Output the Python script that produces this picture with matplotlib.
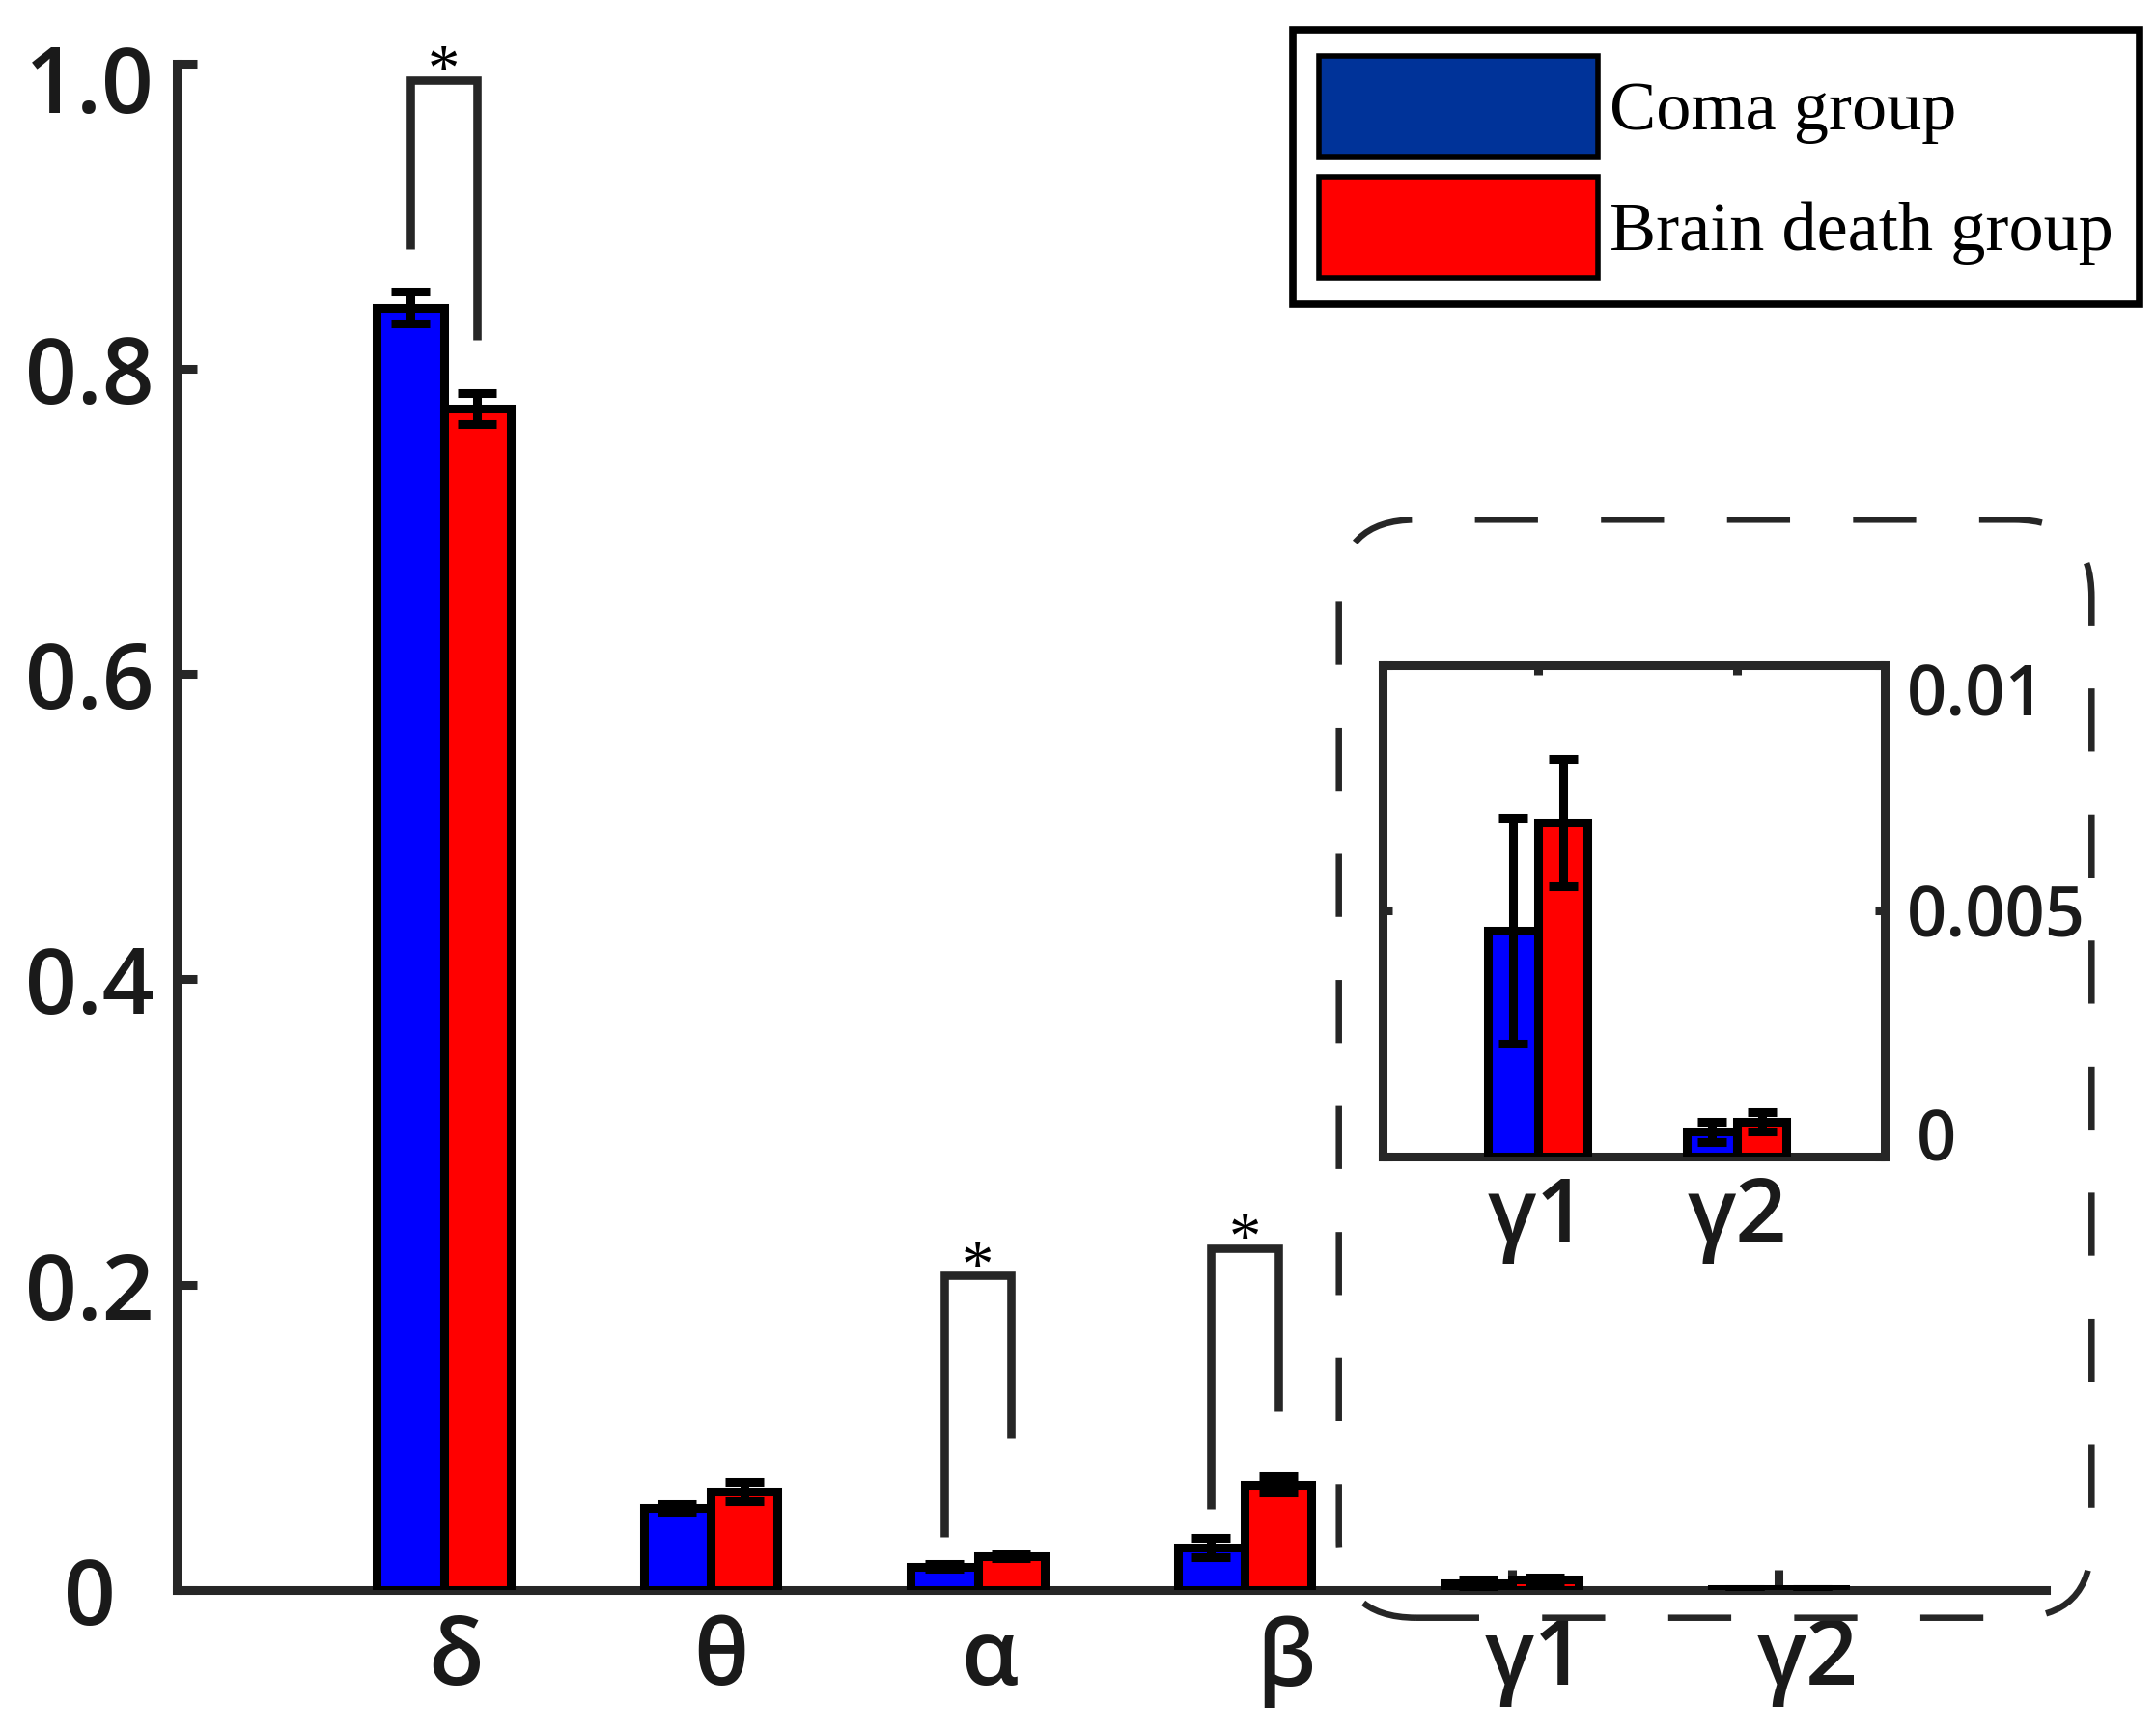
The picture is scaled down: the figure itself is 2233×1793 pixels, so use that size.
import matplotlib
matplotlib.use('Agg')
import matplotlib.pyplot as plt
import numpy as np
from matplotlib.patches import Patch, FancyBboxPatch
from matplotlib.transforms import ScaledTranslation

# ---------------- data ----------------
bands = ['δ', 'θ', 'α', 'β', 'γ1', 'γ2']
coma_mean = [0.840, 0.054, 0.0154, 0.0278, 0.0046, 0.0005]
coma_err = [0.0107, 0.0025, 0.0014, 0.0066, 0.0023, 0.0002]
bd_mean = [0.774, 0.0646, 0.0223, 0.0690, 0.0068, 0.0007]
bd_err = [0.0103, 0.0065, 0.0012, 0.0054, 0.0013, 0.0002]

y_ticks = [0, 0.2, 0.4, 0.6, 0.8, 1.0]
y_tick_labels = ['0', '0.2', '0.4', '0.6', '0.8', '1.0']

inset_bands = ['γ1', 'γ2']
inset_ticks = [0, 0.005, 0.01]
inset_tick_labels = ['0', '0.005', '0.01']

sig_groups = ['δ', 'α', 'β']
sig_top = [0.989, 0.206, 0.224]
sig_left_end = [0.8785, 0.035, 0.053]
sig_right_end = [0.819, 0.099, 0.117]

legend_labels = ['Coma group', 'Brain death group']

# ---------------- style ----------------
plt.rcParams['font.family'] = ['Open Sans', 'DejaVu Sans']
plt.rcParams['font.weight'] = 'semibold'
SPINE = '#262626'
LW = 6.5
W, H = 2233, 1793


def fx(px):
    return px / W


def fy(py):
    return 1 - py / H


fig = plt.figure(figsize=(W / 100, H / 100), dpi=100)

# ---------------- main axes ----------------
ax = fig.add_axes([fx(183), fy(1647), fx(2118.5) - fx(183), fy(65.5) - fy(1647)])
x = np.arange(1, len(bands) + 1)
bw = 0.25
ax.bar(x - bw / 2, coma_mean, bw, color='#0000FF', edgecolor='black', linewidth=LW, zorder=3)
ax.bar(x + bw / 2, bd_mean, bw, color='#FF0000', edgecolor='black', linewidth=LW, zorder=3)
ax.errorbar(x - bw / 2, coma_mean, yerr=coma_err, fmt='none', ecolor='black',
            elinewidth=LW, capsize=14.7, capthick=LW, zorder=4)
ax.errorbar(x + bw / 2, bd_mean, yerr=bd_err, fmt='none', ecolor='black',
            elinewidth=LW, capsize=14.7, capthick=LW, zorder=4)

ax.set_xlim(0, 7)
ax.set_ylim(0, 1)
for s in ['top', 'right']:
    ax.spines[s].set_visible(False)
for s in ['left', 'bottom']:
    ax.spines[s].set_linewidth(LW)
    ax.spines[s].set_color(SPINE)
ax.set_xticks(x)
ax.set_xticklabels(bands)
ax.set_yticks(y_ticks)
ax.set_yticklabels(y_tick_labels)
ax.tick_params(axis='both', direction='in', length=15, width=LW, color=SPINE,
               labelcolor='#1a1a1a', labelsize=68)
ax.tick_params(axis='y', pad=64.8)
ax.tick_params(axis='x', pad=19)
for lab in ax.get_yticklabels():
    lab.set_horizontalalignment('center')

# MATLAB-like label nudges
t = ax.yaxis.get_major_ticks()[-1]
t.label1.set_transform(t.label1.get_transform() + ScaledTranslation(0, -0.16, fig.dpi_scale_trans))
xlabel_dx_px = [12, 11, 13, 43, 25, 30]
for tk, dx in zip(ax.xaxis.get_major_ticks(), xlabel_dx_px):
    tk.label1.set_transform(tk.label1.get_transform() + ScaledTranslation(dx / 100, 0, fig.dpi_scale_trans))

# significance brackets
for g, top, le, re in zip(sig_groups, sig_top, sig_left_end, sig_right_end):
    xc = bands.index(g) + 1
    xl, xr = xc - bw / 2, xc + bw / 2
    ax.plot([xl, xl, xr, xr], [le, top, top, re], color=SPINE, lw=6.2,
            solid_joinstyle='miter', solid_capstyle='butt', zorder=5, clip_on=False)
    ax.annotate('*', xy=(xc, top), xytext=(0, 5), textcoords='offset points',
                ha='center', va='center', fontsize=48, family=['Liberation Serif'],
                fontweight='normal', color='black', zorder=6)

# ---------------- inset ----------------
axin = fig.add_axes([fx(1432), fy(1197.8), fx(1951.5) - fx(1432), fy(689) - fy(1197.8)])
axin.set_facecolor('none')
xi = np.arange(1, len(inset_bands) + 1)
idx = [bands.index(b) for b in inset_bands]
ci_m = [coma_mean[i] for i in idx]
ci_e = [coma_err[i] for i in idx]
bi_m = [bd_mean[i] for i in idx]
bi_e = [bd_err[i] for i in idx]
axin.bar(xi - bw / 2, ci_m, bw, color='#0000FF', edgecolor='black', linewidth=LW, zorder=3)
axin.bar(xi + bw / 2, bi_m, bw, color='#FF0000', edgecolor='black', linewidth=LW, zorder=3)
axin.errorbar(xi - bw / 2, ci_m, yerr=ci_e, fmt='none', ecolor='black',
              elinewidth=LW, capsize=11, capthick=LW, zorder=4)
axin.errorbar(xi + bw / 2, bi_m, yerr=bi_e, fmt='none', ecolor='black',
              elinewidth=LW, capsize=11, capthick=LW, zorder=4)
axin.set_xlim(0.22, 2.74)
axin.set_ylim(0, 0.01)
for s in axin.spines.values():
    s.set_linewidth(LW)
    s.set_color(SPINE)
axin.set_xticks(xi)
axin.set_xticklabels(inset_bands)
axin.set_yticks(inset_ticks)
axin.set_yticklabels(inset_tick_labels)
axin.tick_params(axis='y', left=True, right=True, labelleft=False, labelright=True,
                 direction='in', length=7.5, width=LW, color=SPINE, labelcolor='#1a1a1a',
                 labelsize=52, pad=17)
axin.tick_params(axis='x', top=True, bottom=True, direction='in', length=7.5, width=LW,
                 color=SPINE, labelcolor='#1a1a1a', labelsize=67, pad=14)
yt = axin.yaxis.get_major_ticks()
yt[-1].label2.set_transform(yt[-1].label2.get_transform() + ScaledTranslation(0, -0.25, fig.dpi_scale_trans))
yt[0].label2.set_transform(yt[0].label2.get_transform() + ScaledTranslation(0.1, 0.228, fig.dpi_scale_trans))

# ---------------- dashed rounded frame ----------------
box = FancyBboxPatch((13.867, 1.173), 7.796, 11.374,
                     boxstyle='round,pad=0,rounding_size=0.8',
                     transform=fig.dpi_scale_trans, fill=False, edgecolor=SPINE,
                     linewidth=4.7, linestyle=(0, (10, 10)), zorder=10)
fig.add_artist(box)

# ---------------- legend ----------------
handles = [Patch(facecolor='#003399', edgecolor='black', linewidth=4),
           Patch(facecolor='#FF0000', edgecolor='black', linewidth=4)]
leg = fig.legend(handles, legend_labels, loc='upper left',
                 bbox_to_anchor=(fx(1339), fy(31)), bbox_transform=fig.transFigure,
                 borderaxespad=0,
                 prop={'family': 'Liberation Serif', 'size': 52, 'weight': 'normal'},
                 handlelength=3.99, handleheight=1.86, labelspacing=0.27,
                 borderpad=0.38, handletextpad=0.17, frameon=True, fancybox=False,
                 edgecolor='black', framealpha=1)
leg.get_frame().set_linewidth(5.5)

fig.savefig('out.png', dpi=100)
